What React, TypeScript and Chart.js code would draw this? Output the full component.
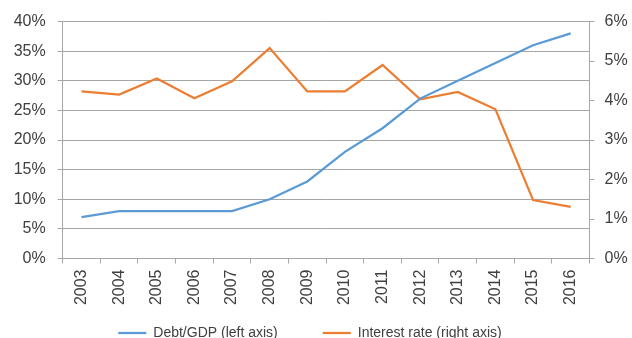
import { useEffect, useRef } from 'react';
import { Chart, registerables } from 'chart.js';

Chart.register(...registerables);

// Years on the category axis
const years = ['2003', '2004', '2005', '2006', '2007', '2008', '2009', '2010', '2011', '2012', '2013', '2014', '2015', '2016'];
// Government debt as a share of GDP, in percent (left axis)
const debtToGdp = [7, 8, 8, 8, 8, 10, 13, 18, 22, 27, 30, 33, 36, 38];
// Interest rate, in percent (right axis)
const interestRate = [4.23, 4.15, 4.56, 4.06, 4.49, 5.33, 4.23, 4.23, 4.9, 4.03, 4.22, 3.78, 1.48, 1.31];
// Axis tick values
const debtTicks = [0, 5, 10, 15, 20, 25, 30, 35, 40];
const rateTicks = [0, 1, 2, 3, 4, 5, 6];

const WIDTH = 632;
const HEIGHT = 350;
const FONT = '"Liberation Sans", Arial, sans-serif';
const TEXT = '#404040';
const GRID = '#a6a6a6';
const BLUE = '#5B9BD5';
const ORANGE = '#ED7D31';

// Tick labels may reach outside their own scale box (the rotated years run
// down past the legend's top edge), so the per-scale label clip is turned off.
const unclipLabels = (scale: any) => {
  scale._computeLabelArea = () => undefined;
};

export default function App() {
  const canvasRef = useRef<HTMLCanvasElement>(null);

  useEffect(() => {
    const canvas = canvasRef.current;
    if (!canvas) return;
    const chart = new Chart(canvas, {
      type: 'line',
      data: {
        labels: years,
        datasets: [
          {
            label: 'Debt/GDP (left axis)',
            data: debtToGdp,
            borderColor: BLUE,
            backgroundColor: BLUE,
            borderWidth: 2.25,
            pointRadius: 0,
            tension: 0,
            yAxisID: 'yLeft',
          },
          {
            label: 'Interest rate (right axis)',
            data: interestRate,
            borderColor: ORANGE,
            backgroundColor: ORANGE,
            borderWidth: 2.25,
            pointRadius: 0,
            tension: 0,
            yAxisID: 'yRight',
          },
        ],
      },
      options: {
        responsive: false,
        animation: false,
        layout: { padding: { top: 21, left: 0, right: 12, bottom: 0 } },
        plugins: {
          tooltip: { enabled: false },
          legend: {
            position: 'bottom',
            labels: {
              usePointStyle: true,
              pointStyle: 'line',
              pointStyleWidth: 28,
              padding: 45,
              color: TEXT,
              font: { family: FONT, size: 14 },
            },
          },
        },
        scales: {
          x: {
            offset: true,
            grid: { offset: true, drawOnChartArea: false, tickLength: 5, color: GRID, lineWidth: 1 },
            border: { display: true, color: GRID, width: 1 },
            ticks: {
              minRotation: 90,
              maxRotation: 90,
              padding: 6,
              color: TEXT,
              font: { family: FONT, size: 16 },
            },
            afterFit: (scale: any) => {
              scale.height = 22.5;
              unclipLabels(scale);
            },
          },
          yLeft: {
            type: 'linear',
            position: 'left',
            min: 0,
            max: 40,
            afterBuildTicks: (scale: any) => {
              scale.ticks = debtTicks.map((value) => ({ value }));
            },
            ticks: {
              padding: 12,
              color: TEXT,
              font: { family: FONT, size: 16 },
              callback: (v: any) => `${v}%`,
            },
            grid: { color: GRID, lineWidth: 1, tickLength: 5 },
            border: { display: true, color: GRID, width: 1 },
            afterFit: (scale: any) => {
              scale.width = 62.7;
            },
          },
          yRight: {
            type: 'linear',
            position: 'right',
            min: 0,
            max: 6,
            afterBuildTicks: (scale: any) => {
              scale.ticks = rateTicks.map((value) => ({ value }));
            },
            ticks: {
              padding: 10,
              color: TEXT,
              font: { family: FONT, size: 16 },
              callback: (v: any) => `${v}%`,
            },
            grid: { drawOnChartArea: false, color: GRID, lineWidth: 1, tickLength: 5 },
            border: { display: true, color: GRID, width: 1 },
            afterFit: (scale: any) => {
              scale.width = 30.5;
              unclipLabels(scale);
            },
          },
        },
      },
    });
    return () => chart.destroy();
  }, []);

  return (
    <div style={{ position: 'absolute', left: 0, top: 0, width: WIDTH, height: HEIGHT, background: '#fff' }}>
      <canvas ref={canvasRef} width={WIDTH} height={HEIGHT} style={{ display: 'block', width: WIDTH, height: HEIGHT }} />
    </div>
  );
}
